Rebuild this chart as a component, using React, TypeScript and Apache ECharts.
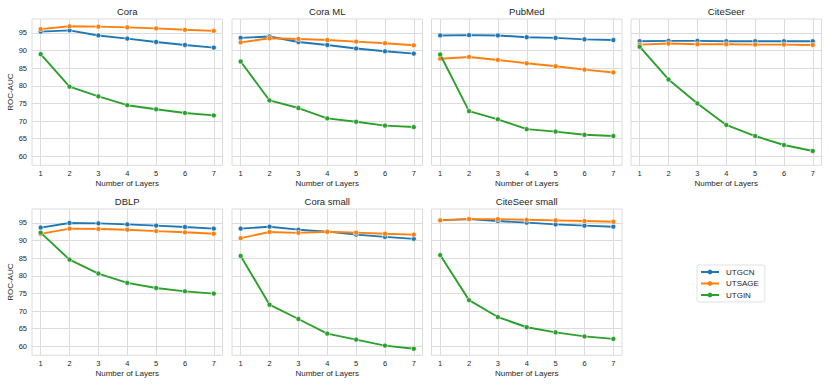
import { useEffect, useRef } from 'react';
import * as echarts from 'echarts';

const layers = [1, 2, 3, 4, 5, 6, 7];
const datasets = ['Cora', 'Cora ML', 'PubMed', 'CiteSeer', 'DBLP', 'Cora small', 'CiteSeer small'];
const yTicks = [60, 65, 70, 75, 80, 85, 90, 95];
const modelNames = ['UTGCN', 'UTSAGE', 'UTGIN'];

const utgcn = [
  [95.4, 95.75, 94.3, 93.4, 92.45, 91.6, 90.85],
  [93.6, 94.0, 92.45, 91.6, 90.6, 89.8, 89.15],
  [94.3, 94.4, 94.3, 93.8, 93.6, 93.2, 93.0],
  [92.65, 92.75, 92.75, 92.65, 92.65, 92.65, 92.65],
  [93.7, 95.0, 94.9, 94.6, 94.25, 93.85, 93.4],
  [93.4, 93.95, 93.1, 92.55, 91.7, 91.05, 90.5],
  [95.8, 96.1, 95.55, 95.1, 94.6, 94.25, 93.95],
];
const utsage = [
  [96.1, 96.9, 96.8, 96.6, 96.3, 95.9, 95.6],
  [92.35, 93.5, 93.3, 93.0, 92.55, 92.1, 91.5],
  [87.7, 88.2, 87.35, 86.4, 85.55, 84.6, 83.8],
  [91.7, 92.0, 91.8, 91.8, 91.7, 91.7, 91.6],
  [91.9, 93.4, 93.3, 93.1, 92.7, 92.35, 91.95],
  [90.7, 92.45, 92.2, 92.5, 92.25, 91.95, 91.7],
  [95.75, 96.1, 96.1, 95.9, 95.75, 95.55, 95.35],
];
const utgin = [
  [89.0, 79.75, 77.0, 74.5, 73.35, 72.3, 71.6],
  [86.9, 75.85, 73.7, 70.75, 69.8, 68.7, 68.3],
  [88.9, 72.8, 70.5, 67.7, 67.0, 66.1, 65.75],
  [91.1, 81.8, 75.0, 68.9, 65.75, 63.2, 61.5],
  [92.25, 84.6, 80.65, 78.0, 76.55, 75.6, 74.95],
  [85.65, 71.8, 67.75, 63.6, 61.9, 60.2, 59.3],
  [85.9, 73.1, 68.3, 65.4, 63.95, 62.8, 62.1],
];

const colors = ['#1f77b4', '#ff7f0e', '#2ca02c'];
const FONT = '"Liberation Sans", Arial, sans-serif';
const GRID_COLOR = '#dcdcdc';
const TEXT_COLOR = '#262626';

export default function App() {
  const ref = useRef<HTMLDivElement>(null);
  useEffect(() => {
    if (!ref.current) return;
    const chart = echarts.init(ref.current, undefined, { renderer: 'svg' });
    const lefts = [32, 232, 431.5, 631, 32, 232, 431.5];
    const tops = [19, 19, 19, 19, 209, 209, 209];
    const W = 190.5;
    const H = 146.3;
    const allSeries = [utgcn, utsage, utgin];

    const grids = datasets.map((_, i) => ({
      left: lefts[i],
      top: tops[i],
      width: W,
      height: H,
      show: true,
      borderColor: GRID_COLOR,
      borderWidth: 1,
      backgroundColor: '#ffffff',
    }));

    const titles = datasets.map((name, i) => ({
      text: name,
      left: lefts[i] + W / 2,
      top: tops[i] - 12.5,
      textAlign: 'center',
      padding: 0,
      textStyle: { fontFamily: FONT, fontSize: 9.5, fontWeight: 'normal', color: TEXT_COLOR },
    }));

    const xAxes = datasets.map((_, i) => ({
      type: 'value',
      gridIndex: i,
      min: 0.7,
      max: 7.3,
      name: 'Number of Layers',
      nameLocation: 'middle',
      nameGap: 14,
      nameTextStyle: { fontFamily: FONT, fontSize: 8, color: TEXT_COLOR },
      axisLine: { show: false },
      axisTick: { show: false, customValues: layers },
      axisLabel: {
        customValues: layers,
        fontFamily: FONT,
        fontSize: 7.5,
        color: TEXT_COLOR,
        margin: 4,
      },
      splitLine: { show: true, lineStyle: { color: GRID_COLOR, width: 1 } },
    }));

    const yAxes = datasets.map((_, i) => {
      const showLabels = i === 0 || i === 4;
      return {
        type: 'value',
        gridIndex: i,
        min: 57.44,
        max: 98.97,
        name: showLabels ? 'ROC-AUC' : '',
        nameLocation: 'middle',
        nameRotate: 90,
        nameGap: 17,
        nameTextStyle: { fontFamily: FONT, fontSize: 8, color: TEXT_COLOR },
        axisLine: { show: false },
        axisTick: { show: false, customValues: yTicks },
        axisLabel: {
          show: showLabels,
          customValues: yTicks,
          fontFamily: FONT,
          fontSize: 7.5,
          color: TEXT_COLOR,
          margin: 5,
        },
        splitLine: { show: true, lineStyle: { color: GRID_COLOR, width: 1 } },
      };
    });

    const series: any[] = [];
    datasets.forEach((_, i) => {
      allSeries.forEach((vals, k) => {
        series.push({
          type: 'line',
          name: modelNames[k],
          xAxisIndex: i,
          yAxisIndex: i,
          data: layers.map((l, j) => [l, vals[i][j]]),
          symbol: 'circle',
          symbolSize: 5,
          showSymbol: true,
          lineStyle: { color: colors[k], width: 1.9 },
          itemStyle: { color: colors[k], borderColor: '#ffffff', borderWidth: 0.6 },
          emphasis: { disabled: true },
          z: 2 + k,
        });
      });
    });

    chart.setOption({
      animation: false,
      backgroundColor: '#ffffff',
      title: titles,
      grid: grids,
      xAxis: xAxes,
      yAxis: yAxes,
      series,
      legend: {
        data: modelNames,
        orient: 'vertical',
        left: 697,
        top: 265,
        itemWidth: 18,
        itemHeight: 6,
        itemGap: 3.5,
        padding: [3, 6, 3, 3],
        borderColor: '#d9d9d9',
        borderWidth: 0.8,
        borderRadius: 2,
        itemStyle: { borderWidth: 0 },
        lineStyle: { width: 2 },
        textStyle: { fontFamily: FONT, fontSize: 8, color: TEXT_COLOR, padding: [0, 0, 0, 2] },
      },
    });
    return () => chart.dispose();
  }, []);
  return (
    <div
      ref={ref}
      style={{ position: 'fixed', left: 0, top: 0, width: 830, height: 388 }}
    />
  );
}
